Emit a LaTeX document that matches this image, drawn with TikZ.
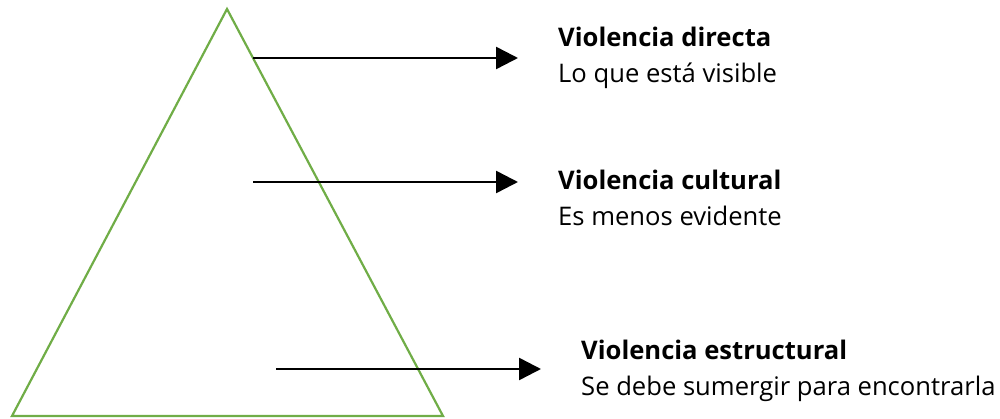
\documentclass[tikz,border=0pt]{standalone}
\usepackage{fontspec}
\setmainfont{Open Sans}
\usetikzlibrary{arrows.meta}
\definecolor{trigreen}{HTML}{70AD47}
\begin{document}
\begin{tikzpicture}[x=1pt,y=-1pt,
  arr/.style={line width=2.5pt,-{Triangle[length=22pt,width=22pt]}},
  lbl/.style={anchor=base west,inner sep=0pt,align=left,font=\fontsize{25.6}{36}\selectfont}]
\useasboundingbox (0,0) rectangle (1000,419);
\draw[trigreen,line width=2.2pt,line join=miter] (227,9) coordinate (apex) -- (443,416) coordinate (br) -- (12,416) coordinate (bl) -- cycle;
\coordinate (s1) at (253,58); \coordinate (e1) at (518,58);
\coordinate (s2) at (253,182); \coordinate (e2) at (518,182);
\coordinate (s3) at (276,369); \coordinate (e3) at (541,369);
\draw[arr] (s1) -- (e1);
\draw[arr] (s2) -- (e2);
\draw[arr] (s3) -- (e3);
\node[lbl] (l1) at (558,83) {\textbf{Violencia directa}\\Lo que está visible};
\node[lbl] (l2) at (558,226) {\textbf{Violencia cultural}\\Es menos evidente};
\node[lbl] (l3) at (581,395) {\textbf{Violencia estructural}\\Se debe sumergir para encontrarla};
\end{tikzpicture}
\end{document}
